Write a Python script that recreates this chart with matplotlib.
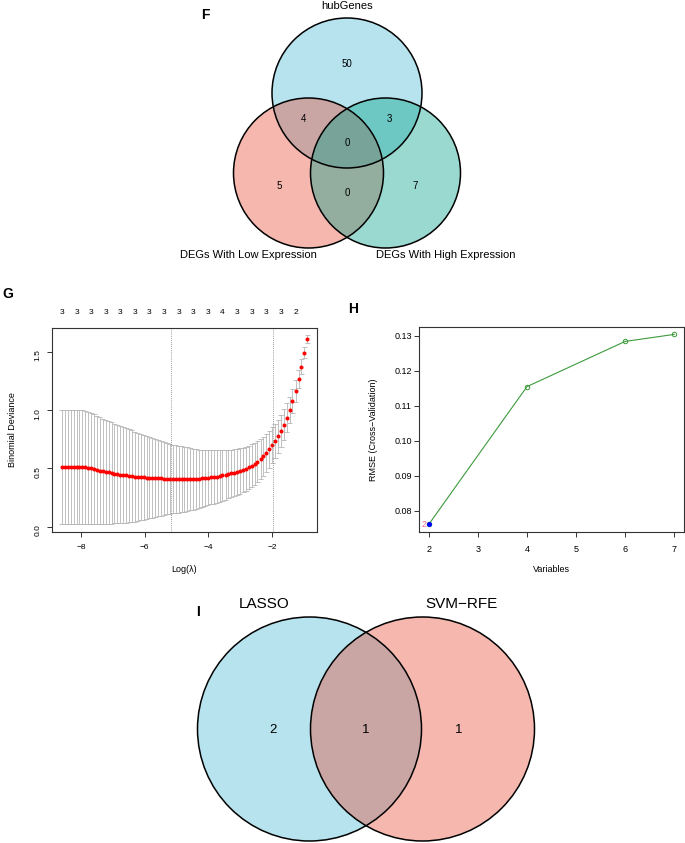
import matplotlib
matplotlib.use("Agg")
import matplotlib.pyplot as plt
import matplotlib.transforms as mtransforms
from matplotlib.patches import Circle
import numpy as np

plt.rcParams['font.family'] = ['Liberation Sans', 'DejaVu Sans']

# ---- panel F: venn of hub genes vs DEGs ----
f_sets = ['hubGenes', 'DEGs With Low Expression', 'DEGs With High Expression']
f_colors = ['#4DBBD5', '#E64B35', '#00A087']
# hub only, hub&low, hub&high, all three, low only, low&high, high only
f_counts = [50, 4, 3, 0, 5, 0, 7]

# ---- panel G: LASSO cross-validation ----
log_lambda = [-8.60, -8.51, -8.42, -8.32, -8.23, -8.14, -8.05, -7.96, -7.87, -7.77,
              -7.68, -7.59, -7.50, -7.41, -7.32, -7.22, -7.13, -7.04, -6.95, -6.86,
              -6.77, -6.67, -6.58, -6.49, -6.40, -6.31, -6.22, -6.12, -6.03, -5.94,
              -5.85, -5.76, -5.67, -5.57, -5.48, -5.39, -5.30, -5.21, -5.12, -5.02,
              -4.93, -4.84, -4.75, -4.66, -4.57, -4.47, -4.38, -4.29, -4.20, -4.11,
              -4.02, -3.92, -3.83, -3.74, -3.65, -3.56, -3.46, -3.37, -3.28, -3.19,
              -3.10, -3.01, -2.91, -2.82, -2.73, -2.64, -2.55, -2.46, -2.36, -2.27,
              -2.18, -2.09, -2.00, -1.91, -1.81, -1.72, -1.63, -1.54, -1.45, -1.36,
              -1.26, -1.17, -1.08, -0.99, -0.90]
cv_mean = [0.510, 0.510, 0.511, 0.511, 0.512, 0.513, 0.514, 0.514, 0.511, 0.506,
           0.500, 0.494, 0.488, 0.482, 0.476, 0.471, 0.466, 0.461, 0.456, 0.452,
           0.448, 0.444, 0.440, 0.437, 0.434, 0.431, 0.428, 0.426, 0.424, 0.422,
           0.420, 0.418, 0.417, 0.415, 0.414, 0.413, 0.412, 0.411, 0.410, 0.409,
           0.408, 0.407, 0.407, 0.407, 0.408, 0.409, 0.410, 0.412, 0.415, 0.417,
           0.420, 0.423, 0.427, 0.431, 0.435, 0.440, 0.445, 0.451, 0.457, 0.464,
           0.471, 0.479, 0.488, 0.498, 0.510, 0.524, 0.540, 0.558, 0.580, 0.605,
           0.633, 0.665, 0.700, 0.735, 0.775, 0.822, 0.876, 0.937, 1.003, 1.078,
           1.163, 1.265, 1.372, 1.491, 1.611]
cv_se = [0.488, 0.488, 0.488, 0.488, 0.488, 0.488, 0.487, 0.487, 0.486, 0.481,
         0.475, 0.469, 0.464, 0.458, 0.452, 0.446, 0.440, 0.434, 0.428, 0.422,
         0.416, 0.410, 0.404, 0.398, 0.392, 0.386, 0.378, 0.371, 0.364, 0.357,
         0.349, 0.342, 0.334, 0.327, 0.320, 0.312, 0.305, 0.298, 0.294, 0.290,
         0.286, 0.282, 0.279, 0.273, 0.267, 0.262, 0.256, 0.250, 0.245, 0.240,
         0.236, 0.232, 0.228, 0.224, 0.220, 0.216, 0.212, 0.208, 0.204, 0.200,
         0.197, 0.194, 0.191, 0.188, 0.185, 0.182, 0.178, 0.174, 0.170, 0.166,
         0.162, 0.158, 0.154, 0.149, 0.143, 0.137, 0.130, 0.122, 0.113, 0.103,
         0.092, 0.078, 0.063, 0.047, 0.032]
nzero = [3, 3, 3, 3, 3, 3, 3, 3, 3, 3, 3, 4, 3, 3, 3, 3, 2]
lambda_min = -5.16
lambda_1se = -1.98

# ---- panel H: SVM-RFE ----
rfe_vars = [2, 4, 6, 7]
rfe_rmse = [0.0762, 0.1155, 0.1284, 0.1304]
rfe_best = 0  # index of best model

# ---- panel I: LASSO vs SVM-RFE ----
i_sets = ['LASSO', 'SVM\u2212RFE']
i_colors = ['#4DBBD5', '#E64B35']
i_counts = [2, 1, 1]

W, H = 685, 843
fig = plt.figure(figsize=(W / 100, H / 100), dpi=100)

# overlay in pixel coordinates for the venn panels and panel letters
ov = fig.add_axes([0, 0, 1, 1])
ov.set_xlim(0, W)
ov.set_ylim(H, 0)
ov.axis('off')

# F
f_centers = [(347, 93), (308.5, 173), (385.5, 173)]
for (cx, cy), col in zip(f_centers, f_colors):
    ov.add_patch(Circle((cx, cy), 75, facecolor=col, alpha=0.4, edgecolor='none'))
for cx, cy in f_centers:
    ov.add_patch(Circle((cx, cy), 75, facecolor='none', edgecolor='black', lw=1.1))
f_pos = [(347, 64), (304, 119), (389, 119), (347, 143), (279, 186), (347, 193), (415, 186)]
for (px, py), n in zip(f_pos, f_counts):
    ov.text(px, py, str(n), ha='center', va='center', fontsize=7)
f_label_pos = [(347, 6), (248, 255), (446, 255)]
for (px, py), name in zip(f_label_pos, f_sets):
    ov.text(px, py, name, ha='center', va='center', fontsize=8)
ov.text(205, 15, 'F', ha='center', va='center', fontsize=10, fontweight='bold')

# I
i_centers = [(309.5, 729), (422.5, 729)]
for (cx, cy), col in zip(i_centers, i_colors):
    ov.add_patch(Circle((cx, cy), 112, facecolor=col, alpha=0.4, edgecolor='none'))
for cx, cy in i_centers:
    ov.add_patch(Circle((cx, cy), 112, facecolor='none', edgecolor='black', lw=1.1))
i_pos = [(273, 730), (366, 730), (459, 730)]
for (px, py), n in zip(i_pos, i_counts):
    ov.text(px, py, str(n), ha='center', va='center', fontsize=9.5)
for (px, py), name in zip([(264, 604), (461, 604)], i_sets):
    ov.text(px, py, name, ha='center', va='center', fontsize=11)
ov.text(198, 612, 'I', ha='center', va='center', fontsize=10, fontweight='bold')

ov.text(8, 294, 'G', ha='center', va='center', fontsize=10, fontweight='bold')
ov.text(353, 309, 'H', ha='center', va='center', fontsize=10, fontweight='bold')

frame_col = '#333333'

# G
axg = fig.add_axes([52 / W, 1 - 532 / H, 265 / W, 204 / H])
x = np.array(log_lambda)
m = np.array(cv_mean)
s = np.array(cv_se)
grey = '#B5B5B5'
axg.vlines(x, m - s, m + s, color=grey, lw=0.6)
cap = 0.08
axg.hlines(m + s, x - cap, x + cap, color=grey, lw=0.6)
axg.hlines(m - s, x - cap, x + cap, color=grey, lw=0.6)
axg.plot(x, m, 'o', color='red', ms=2.9, mec='none')
for v in (lambda_min, lambda_1se):
    axg.axvline(v, color='#777777', lw=0.6, ls=(0, (1, 1.5)))
axg.set_xlim(-8.91, -0.59)
axg.set_ylim(-0.045, 1.705)
axg.set_xticks([-8, -6, -4, -2])
axg.set_yticks([0.0, 0.5, 1.0, 1.5])
axg.set_yticklabels(['0.0', '0.5', '1.0', '1.5'])
axg.tick_params(direction='out', length=3.6, width=0.7, color=frame_col,
                labelsize=6, pad=5)
axg.tick_params(axis='y', labelrotation=90, pad=4)
trans = mtransforms.blended_transform_factory(axg.transData, axg.transAxes)
for xi, n in zip(x[::5], nzero):
    axg.text(xi, 1 + 15 / 204, str(n), transform=trans, ha='center', va='center',
             fontsize=6)
axg.set_xlabel('Log(\u03bb)', fontsize=6.5, va='center')
axg.xaxis.set_label_coords(0.5, -37 / 204)
axg.set_ylabel('Binomial Deviance', fontsize=6.5, va='center')
axg.yaxis.set_label_coords(-39 / 265, 0.5)
for sp in axg.spines.values():
    sp.set_color(frame_col)
    sp.set_linewidth(0.8)

# H
axh = fig.add_axes([419 / W, 1 - 532 / H, 265 / W, 205.3 / H])
green = '#3C9A3C'
axh.plot(rfe_vars, rfe_rmse, '-', color=green, lw=0.8, marker='o', mfc='none',
         mec=green, ms=3.2, mew=0.7)
bx, by = rfe_vars[rfe_best], rfe_rmse[rfe_best]
axh.plot([bx], [by], 'o', color='#0000FF', ms=3.6, mec='none')
axh.text(bx - 0.05, by, str(bx), color='#F26D8A', ha='right', va='center', fontsize=6.5)
axh.set_xlim(1.8, 7.2)
axh.set_ylim(0.0740, 0.1326)
axh.set_xticks([2, 3, 4, 5, 6, 7])
axh.set_yticks([0.08, 0.09, 0.10, 0.11, 0.12, 0.13])
axh.set_yticklabels(['0.08', '0.09', '0.10', '0.11', '0.12', '0.13'])
axh.tick_params(direction='out', length=3.6, width=0.7, color=frame_col,
                labelsize=6.5)
axh.tick_params(axis='x', pad=6)
axh.tick_params(axis='y', pad=1.5)
axh.set_xlabel('Variables', fontsize=6.5, va='center')
axh.xaxis.set_label_coords(0.5, -38 / 205.3)
axh.set_ylabel('RMSE (Cross\u2212Validation)', fontsize=6.5, va='center')
axh.yaxis.set_label_coords(-46 / 265, 0.5)
for sp in axh.spines.values():
    sp.set_color(frame_col)
    sp.set_linewidth(0.8)

fig.savefig('out.png', dpi=100)
